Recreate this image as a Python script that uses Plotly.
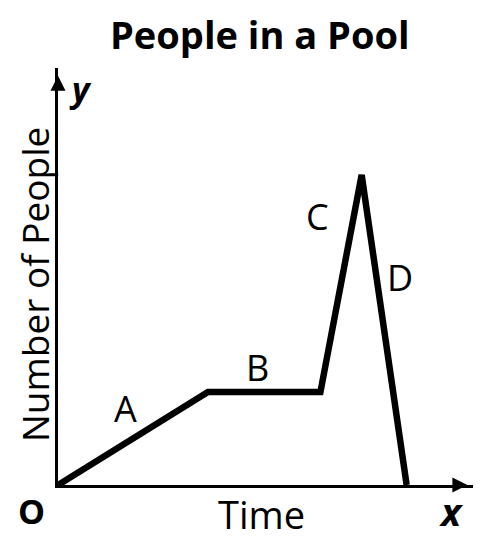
import plotly.graph_objects as go

# Data
times = [0, 4, 7, 8.1, 9.3]
people = [0, 3, 3, 10, 0]
seg_labels = ["A", "B", "C", "D"]
seg_label_x = [1.79, 5.31, 6.93, 9.12]
seg_label_y = [2.48, 3.8, 8.65, 6.68]

X_MAX = 11.07
Y_MAX = 13.45
FONT = "Open Sans"

fig = go.Figure()
fig.add_trace(go.Scatter(
    x=times, y=people, mode="lines",
    line=dict(color="black", width=6.5), hoverinfo="skip", showlegend=False,
))
# axis arrowheads
fig.add_trace(go.Scatter(
    x=[0, X_MAX - 0.15], y=[Y_MAX - 0.25, 0], mode="markers",
    marker=dict(symbol=["arrow-up", "arrow-right"], size=15, color="black",
                line=dict(width=0)),
    cliponaxis=False, hoverinfo="skip", showlegend=False,
))

for lab, lx, ly in zip(seg_labels, seg_label_x, seg_label_y):
    fig.add_annotation(x=lx, y=ly, text=lab, showarrow=False,
                       xanchor="center", yanchor="middle",
                       font=dict(family=FONT, size=36, color="black"))

def px2paper(px, py):
    return (px - 58) / 415, (485 - py) / 417

texts = [
    ("<b>People in a Pool</b>", 260, 34, 38, 0),
    ("<b><i>y</i></b>", 80, 89, 34, 0),
    ("<b>O</b>", 32, 511, 34, 0),
    ("<b><i>x</i></b>", 451, 511, 38, 0),
    ("Time", 261, 514, 38, 0),
    ("Number of People", 34, 285, 37, -90),
]
for t, px, py, sz, ang in texts:
    xp, yp = px2paper(px, py)
    fig.add_annotation(x=xp, y=yp, xref="paper", yref="paper", text=t,
                       showarrow=False, textangle=ang,
                       xanchor="center", yanchor="middle",
                       font=dict(family=FONT, size=sz, color="black"))

fig.update_xaxes(range=[0, X_MAX], showline=True, linecolor="black", linewidth=2.5,
                 showgrid=False, zeroline=False, showticklabels=False, ticks="")
fig.update_yaxes(range=[0, Y_MAX], showline=True, linecolor="black", linewidth=2.5,
                 showgrid=False, zeroline=False, showticklabels=False, ticks="")
# page body has an 8px margin, so the figure is offset by 8px in the window
fig.update_layout(
    width=475, height=532, autosize=False,
    margin=dict(l=50, r=10, t=60, b=55),
    plot_bgcolor="white", paper_bgcolor="white",
)
fig.write_html("out.html")
